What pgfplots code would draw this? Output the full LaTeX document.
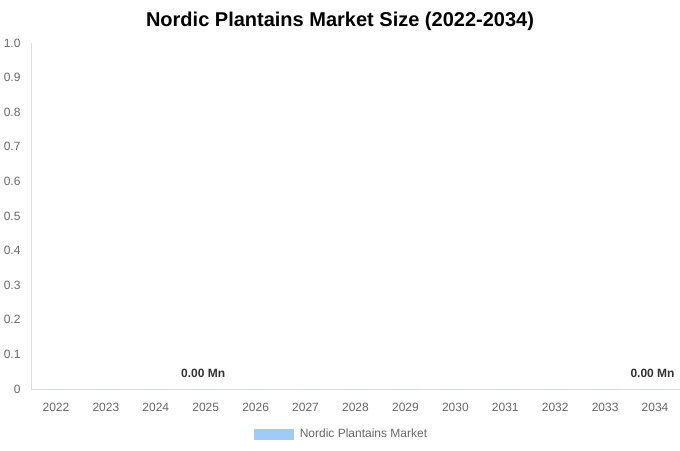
\documentclass[border=0pt]{standalone}
\usepackage{pgfplots}
\pgfplotsset{compat=1.18}
\usepackage{fontspec}
\setmainfont{Liberation Sans}
\definecolor{tickgray}{HTML}{666666}
\definecolor{axgray}{HTML}{DDDDDD}
\definecolor{barblue}{HTML}{A0CBF8}
\begin{document}
\begin{tikzpicture}[x=1pt,y=1pt]
\useasboundingbox (0,0) rectangle (680,450);
\node[font=\bfseries\fontsize{20}{24}\selectfont] at (340,428.5) {Nordic Plantains Market Size (2022-2034)};
\begin{axis}[
  at={(31pt,61pt)}, anchor=south west,
  scale only axis, width=649pt, height=346pt,
  xmin=-0.5, xmax=12.5, ymin=0, ymax=1,
  xtick={0,...,12},
  xticklabels={2022,2023,2024,2025,2026,2027,2028,2029,2030,2031,2032,2033,2034},
  ytick={0,0.1,0.2,0.3,0.4,0.5,0.6,0.7,0.8,0.9,1.0},
  yticklabels={0,0.1,0.2,0.3,0.4,0.5,0.6,0.7,0.8,0.9,1.0},
  tick style={draw=none},
  axis x line*=bottom, axis y line*=left,
  axis line style={draw=axgray, line width=0.8pt},
  x axis line style={-}, y axis line style={-},
  ticklabel style={font=\fontsize{12}{14}\selectfont, text=tickgray},
  xticklabel style={yshift=-11pt},
  yticklabel style={xshift=-7pt},
  legend style={at={(0.5,0)}, anchor=north, yshift=-36pt, xshift=-14pt, draw=none, fill=none,
    font=\fontsize{12}{14}\selectfont, text=tickgray, legend cell align=left},
  legend image code/.code={\fill[barblue] (0pt,-5.5pt) rectangle (40pt,5.5pt); \path (44pt,0pt);},
  clip=false,
]
\addplot[ybar, bar width=30pt, fill=barblue, draw=none] coordinates {
(0,0) (1,0) (2,0) (3,0) (4,0) (5,0) (6,0) (7,0) (8,0) (9,0) (10,0) (11,0) (12,0)};
\addlegendentry{Nordic Plantains Market}
\addplot[draw=none, mark=none, forget plot,
  nodes near coords={0.00 Mn},
  every node near coord/.append style={font=\bfseries\fontsize{12}{14}\selectfont, text=black!80, anchor=center, yshift=16pt, xshift=-2.5pt}]
  coordinates {(3,0) (12,0)};
\end{axis}
\end{tikzpicture}
\end{document}
